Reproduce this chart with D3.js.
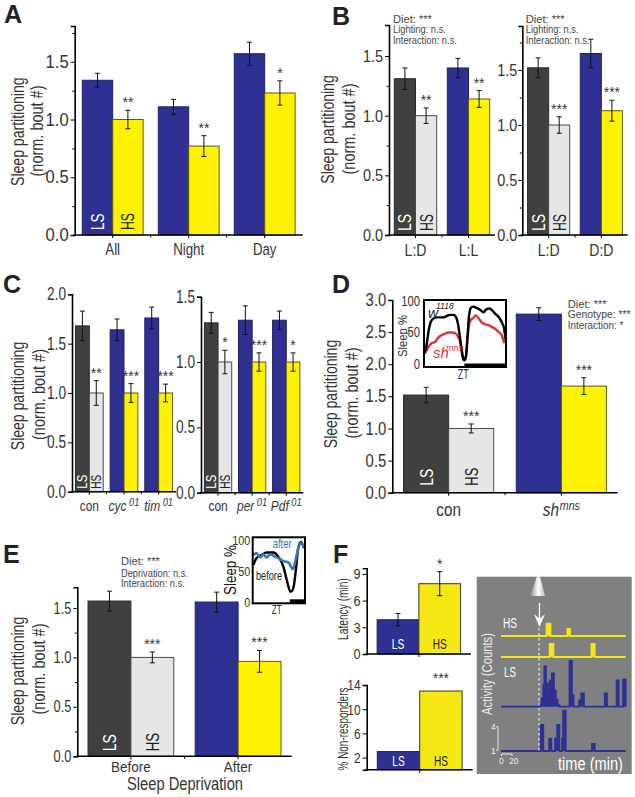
<!DOCTYPE html>
<html>
<head>
<meta charset="utf-8">
<script src="https://cdn.jsdelivr.net/npm/d3@7"></script>
<style>
html,body{margin:0;padding:0;background:#fff;}
svg{display:block;}
text{font-family:"Liberation Sans",Arial,sans-serif;}
</style>
</head>
<body>
<script>
// panel A
var aGroups = ["All","Night","Day"];
var aLS = [1.34,1.11,1.57];
var aHS = [1.0,0.77,1.23];
var aLSErr = [0.06,0.065,0.1];
var aHSErr = [0.08,0.09,0.105];
var aSig = ["**","**","*"];
// panel B
var bLeftGroups = ["L:D","L:L"];
var bLeftLS = [1.31,1.40];
var bLeftHS = [1.0,1.14];
var bLeftLSErr = [0.09,0.08];
var bLeftHSErr = [0.065,0.07];
var bLeftSig = ["**","**"];
var bRightGroups = ["L:D","D:D"];
var bRightLS = [1.52,1.65];
var bRightHS = [1.0,1.13];
var bRightLSErr = [0.09,0.13];
var bRightHSErr = [0.075,0.095];
var bRightSig = ["***","***"];
// panel C
var cLeftGroups = ["con","cyc|01","tim|01"];
var cLeftLS = [1.68,1.64,1.76];
var cLeftHS = [1.0,1.0,1.0];
var cLeftLSErr = [0.15,0.11,0.11];
var cLeftHSErr = [0.125,0.095,0.09];
var cLeftSig = ["**","***","***"];
var cRightGroups = ["con","per|01","Pdf|01"];
var cRightLS = [1.30,1.32,1.32];
var cRightHS = [1.0,1.0,1.0];
var cRightLSErr = [0.08,0.11,0.07];
var cRightHSErr = [0.09,0.07,0.07];
var cRightSig = ["*","***","*"];
// panel D
var dGroups = ["con","sh|mns"];
var dLS = [1.52,2.78];
var dHS = [1.0,1.66];
var dLSErr = [0.12,0.1];
var dHSErr = [0.07,0.13];
var dSig = ["***","***"];
// panel E
var eGroups = ["Before","After"];
var eLS = [1.57,1.56];
var eHS = [1.0,0.96];
var eLSErr = [0.1,0.1];
var eHSErr = [0.055,0.11];
var eSig = ["***","***"];
// panel F
var fLatencyLS = [3.85];
var fLatencyHS = [7.9];
var fLatencyLSErr = [0.7];
var fLatencyHSErr = [1.35];
var fLatencySig = ["*"];
var fNonRespLS = [3];
var fNonRespHS = [13];
var fNonRespSig = ["***"];

// insets: [ZT, sleep %]
var dInsetW1118 = [[0,17],[0.6,25],[1.3,51],[2,67],[2.7,72],[3.7,74],[4.7,74],[5.7,74],[6.6,76],[7.6,78],[8.6,78],[9.3,75],[10,62],[10.7,35],[11.3,12],[11.8,6],[12.3,12],[12.7,41],[13.1,72],[13.7,89],[14.4,91],[15.4,89],[16.4,86],[17.4,82],[18.1,86],[19,88],[19.8,86],[20.8,80],[21.8,75],[22.7,67],[23.4,57],[23.9,38]];
var dInsetShmns = [[0.3,17],[1.3,27],[2.2,33],[3.2,35],[4.2,42],[5.2,46],[6.1,48],[7.1,50],[8.1,50],[9.1,49],[10,43],[10.7,33],[11.3,14],[11.8,6],[12.3,14],[12.7,38],[13.1,59],[13.7,70],[14.4,73],[15.1,77],[15.9,73],[16.9,66],[17.9,63],[18.8,62],[19.8,59],[20.8,56],[21.8,51],[22.7,46],[23.5,33]];
var eInsetBefore = [[0.3,60],[1.8,71],[4.1,76],[6.4,80],[9.5,80],[11.8,73],[14.1,57],[15.6,36],[17.4,17],[18.6,22],[19.9,55],[20.9,87],[22.2,97],[23.5,87]];
var eInsetAfter = [[0.3,76],[1.8,79],[3.4,72],[4.9,77],[6.4,72],[8,77],[10.3,73],[11.8,71],[14.1,66],[16.4,64],[18.4,53],[19.5,65],[20.7,84],[22.2,95],[23.5,88]];

// activity traces: [minutes, counts], each value holds until the next point
var traceHS1 = [[0,1],[85,2.6],[92.5,1],[124,1.9],[129,1],[233,1]];
var traceHS2 = [[0,1],[91,2.7],[98,1],[169,2.7],[175,1],[233,1]];
var traceLS1 = [[0,1],[72,1.3],[76,2.1],[79,3.8],[81,6.2],[84,4],[87.5,2.3],[91,4.4],[95,5.3],[99,3.1],[102.5,1.9],[106,1.2],[109,1],[128,6.9],[132.5,2.5],[135.6,1],[146,1.8],[150,2.7],[155,1],[194,2.7],[198,1],[216,4.4],[220,1],[228,4.5],[233,1]];
var traceLS2 = [[0,1],[74,4.35],[79,1],[90,2.6],[94,1],[101,2.6],[105,4.35],[109,1],[114,2.6],[116,6.2],[121,1],[170,1.9],[175,1],[233,1]];

var palette = {
    blue:{LS:"#2e3192",HS:"#fff200",LSline:"#1f2260",HSline:"#5e5a10"},
    grey:{LS:"#404040",HS:"#e6e6e6",LSline:"#2a2a2a",HSline:"#4a4a4a"},
    flat:{LS:"#2e3192",HS:"#f5e816",LSline:"#1f2260",HSline:"#3a3820"}
};
var textColor = "#333";

var svg = d3.select("body").append("svg").attr("width",635).attr("height",797);

// squeeze a text sideways so its real box stays the narrow one
function place(node,x,y,rotate,k){
    var tr = "translate("+x+","+y+")";
    if(rotate) tr += " rotate(-90)";
    if(k!=1) tr += " scale("+k+",1)";
    node.setAttribute("transform",tr);
}

function addText(o){
    var t = svg.append("text")
        .attr("font-size",o.size)
        .attr("fill",o.fill||textColor)
        .attr("text-anchor",o.anchor||"start")
        .text(o.text);
    if(o.bold) t.attr("font-weight","bold");
    if(o.italic) t.attr("font-style","italic");
    var k = o.len ? o.len/t.node().getComputedTextLength() : 1;
    place(t.node(),o.x,o.y,o.rotate,k);
    return t;
}

function squeeze(sel,k){
    sel.each(function(){
        var x = +this.getAttribute("x")||0;
        this.setAttribute("x",x/k);
        this.setAttribute("transform","scale("+k+",1)");
    });
}

function barPanel(c){
    var x0 = d3.scaleBand().domain(c.groups).range(c.xRange).paddingInner(0.2).paddingOuter(0.1);
    var x1 = d3.scaleBand().domain(["LS","HS"]).range([0,x0.bandwidth()]);
    var y = d3.scaleLinear().domain([0,c.yMax]).range(c.yRange);
    var rows = c.groups.map(function(g,i){
        return {g:g,i:i,LS:c.ls[i],HS:c.hs[i],LSerr:c.lsErr?c.lsErr[i]:0,HSerr:c.hsErr?c.hsErr[i]:0,sig:c.sig[i],style:palette[c.styles[i]]};
    });
    var g = svg.append("g");

    var group = g.selectAll("g.grp").data(rows).join("g").attr("class","grp")
        .attr("transform",function(d){return "translate("+x0(d.g)+",0)";});

    ["LS","HS"].forEach(function(k){
        group.append("rect")
            .attr("x",x1(k))
            .attr("y",function(d){return y(d[k]);})
            .attr("width",x1.bandwidth())
            .attr("height",function(d){return y(0)-y(d[k]);})
            .attr("fill",function(d){return d.style[k];})
            .attr("stroke",function(d){return d.style[k+"line"];})
            .attr("stroke-width",1);

        var cx = x1(k)+x1.bandwidth()/2;
        var errs = group.filter(function(d){return d[k+"err"]>0;});
        errs.append("line")
            .attr("x1",cx).attr("x2",cx)
            .attr("y1",function(d){return y(d[k]+d[k+"err"]);})
            .attr("y2",function(d){return y(d[k]-d[k+"err"]);})
            .attr("stroke","#111");
        [1,-1].forEach(function(s){
            errs.append("line")
                .attr("x1",cx-2.5).attr("x2",cx+2.5)
                .attr("y1",function(d){return y(d[k]+s*d[k+"err"]);})
                .attr("y2",function(d){return y(d[k]+s*d[k+"err"]);})
                .attr("stroke","#111");
        });
    });

    // stars sit above the HS bar
    group.append("text")
        .attr("x",x1("HS")+x1.bandwidth()/2)
        .attr("y",function(d){return y(d.HS+d.HSerr)-(c.starGap||2);})
        .attr("text-anchor","middle")
        .attr("font-size",c.starSize||14)
        .attr("fill",textColor)
        .text(function(d){return d.sig;});

    // LS / HS inside the first group
    if(c.barLabel){
        var b = c.barLabel;
        ["LS","HS"].forEach(function(k){
            var cx = x0(c.groups[0])+x1(k)+x1.bandwidth()/2;
            var t = g.append("text")
                .attr("font-size",b.size)
                .attr("fill",k=="LS"?(b.lsFill||"#fff"):(b.hsFill||"#222"))
                .text(k);
            var kx = b.len[k]/t.node().getComputedTextLength();
            if(b.flat){
                t.attr("text-anchor","middle");
                place(t.node(),cx,c.yRange[0]-b.off,false,kx);
            }else{
                t.attr("dy","0.36em");
                place(t.node(),cx,c.yRange[0]-b.off,true,kx);
            }
        });
    }

    // axes
    var yAxis = g.append("g").attr("transform","translate("+c.xRange[0]+",0)")
        .call(d3.axisLeft(y).tickValues(c.yTicks).tickSize(4).tickPadding(c.tickPad||2).tickFormat(c.yFormat||d3.format(".1f")));
    yAxis.select(".domain").attr("stroke","#000").attr("stroke-width",c.axisW||1.6);
    yAxis.selectAll("text").attr("font-size",c.tickSize).attr("font-family",null).attr("fill",textColor);
    squeeze(yAxis.selectAll("text"),c.tickK||1);

    if(c.yMinor){
        g.append("g").attr("transform","translate("+c.xRange[0]+",0)")
            .call(d3.axisLeft(y).tickValues(c.yMinor).tickSize(2.5).tickFormat(""))
            .select(".domain").remove();
    }

    var xAxis = g.append("g").attr("transform","translate(0,"+c.yRange[0]+")")
        .call(d3.axisBottom(x0).tickSize(3));
    xAxis.select(".domain").attr("stroke","#000").attr("stroke-width",c.axisW||1.6).attr("d","M"+(c.xRange[0]-1)+",0H"+c.xRange[1]);
    if(c.showLabels===false){
        xAxis.selectAll("text").remove();
    }else{
        xAxis.selectAll("text").each(function(d){
            var t = d3.select(this);
            var parts = d.split("|");
            t.text(null).attr("y",c.labelY).attr("dy",0).attr("font-family",null).attr("fill",textColor);
            var first = t.append("tspan").attr("font-size",c.labelSize).text(parts[0]);
            if(parts[1]){
                first.attr("font-style","italic");
                t.append("tspan").attr("font-size",c.supSize).attr("font-style","italic").attr("dx",c.supGap||1).attr("dy",c.supRise).text(parts[1]);
            }
        });
        squeeze(xAxis.selectAll("text"),c.labelK||1);
    }

    // small ticks halfway between the groups
    g.selectAll("line.between").data(c.groups.slice(1)).join("line").attr("class","between")
        .attr("x1",function(d){return x0(d)-x0.step()*0.1;})
        .attr("x2",function(d){return x0(d)-x0.step()*0.1;})
        .attr("y1",c.yRange[0]).attr("y2",c.yRange[0]+2.5)
        .attr("stroke","#000");
}

function inset(c){
    var x = d3.scaleLinear().domain([0,24]).range([c.box[0],c.box[2]]);
    var y = d3.scaleLinear().domain([0,100]).range(c.yRange);
    var g = svg.append("g");
    var line = d3.line().x(function(d){return x(d[0]);}).y(function(d){return y(d[1]);}).curve(d3.curveMonotoneX);
    var barH = c.barH;
    g.append("rect").attr("x",c.box[0]).attr("y",c.box[3]-barH).attr("width",x(c.lightsOff)-c.box[0]).attr("height",barH).attr("fill","#fff");
    g.append("rect").attr("x",x(c.lightsOff)).attr("y",c.box[3]-barH).attr("width",c.box[2]-x(c.lightsOff)).attr("height",barH).attr("fill","#000");
    c.series.forEach(function(s){
        g.append("path").datum(s.data).attr("d",line).attr("fill","none").attr("stroke",s.color).attr("stroke-width",s.w);
    });
    g.append("rect").attr("x",c.box[0]).attr("y",c.box[1]).attr("width",c.box[2]-c.box[0]).attr("height",c.box[3]-c.box[1])
        .attr("fill","none").attr("stroke","#000").attr("stroke-width",2);
    var ax = g.append("g").attr("transform","translate("+c.box[0]+",0)")
        .call(d3.axisLeft(y).tickValues([0,50,100]).tickSize(0).tickPadding(c.pad));
    ax.select(".domain").remove();
    ax.selectAll("text").attr("font-size",c.tickSize).attr("font-family",null).attr("fill",textColor);
    squeeze(ax.selectAll("text"),c.tickK);
}

var minor = function(top){
    return d3.range(0.25,top,0.5);
};

barPanel({groups:aGroups,ls:aLS,hs:aHS,lsErr:aLSErr,hsErr:aHSErr,sig:aSig,styles:["blue","blue","blue"],
    xRange:[74.7,302.7],yRange:[235,26],yMax:1.81,yTicks:[0,0.5,1,1.5],yMinor:minor(1.8),tickSize:17.5,tickK:0.95,
    labelSize:17,labelK:0.78,labelY:20,starGap:3,barLabel:{size:18,off:5,len:{LS:16.5,HS:17}}});

barPanel({groups:bLeftGroups,ls:bLeftLS,hs:bLeftHS,lsErr:bLeftLSErr,hsErr:bLeftHSErr,sig:bLeftSig,styles:["grey","blue"],
    xRange:[389,495],yRange:[235,25],yMax:1.76,yTicks:[0,0.5,1,1.5],yMinor:minor(1.75),tickSize:17,tickK:0.85,
    labelSize:16.5,labelK:0.85,labelY:21,starGap:3,barLabel:{size:18,off:4,len:{LS:17,HS:17}}});

barPanel({groups:bRightGroups,ls:bRightLS,hs:bRightHS,lsErr:bRightLSErr,hsErr:bRightHSErr,sig:bRightSig,styles:["grey","blue"],
    xRange:[522.3,627.7],yRange:[235,26],yMax:1.9,yTicks:[0,0.5,1,1.5],yMinor:minor(1.9),tickSize:17,tickK:0.85,tickPad:1,
    labelSize:16.5,labelK:0.85,labelY:21,starGap:3,barLabel:{size:18,off:4,len:{LS:17,HS:17}}});

barPanel({groups:cLeftGroups,ls:cLeftLS,hs:cLeftHS,lsErr:cLeftLSErr,hsErr:cLeftHSErr,sig:cLeftSig,styles:["grey","blue","blue"],
    xRange:[72,176],yRange:[491.7,294.3],yMax:2,yTicks:[0,0.5,1,1.5,2],tickSize:17.5,tickK:0.78,
    labelSize:14,labelK:0.85,labelY:19,supSize:11,supRise:-5,supGap:3,starGap:3,barLabel:{size:14,off:3,len:{LS:14,HS:14}}});

barPanel({groups:cRightGroups,ls:cRightLS,hs:cRightHS,lsErr:cRightLSErr,hsErr:cRightHSErr,sig:cRightSig,styles:["grey","blue","blue"],
    xRange:[201,303.3],yRange:[492.7,296.7],yMax:1.5,yTicks:[0,0.5,1,1.5],tickSize:17.5,tickK:0.78,
    labelSize:14,labelK:0.85,labelY:18,supSize:11,supRise:-5,supGap:3,starGap:3,barLabel:{size:14,off:4,len:{LS:14,HS:14}}});

barPanel({groups:dGroups,ls:dLS,hs:dHS,lsErr:dLSErr,hsErr:dHSErr,sig:dSig,styles:["grey","blue"],
    xRange:[392.3,617.7],yRange:[492.7,300],yMax:3,yTicks:[0,0.5,1,1.5,2,2.5,3],tickSize:17.5,tickK:0.85,
    labelSize:18,labelK:0.85,labelY:23,supSize:12.5,supRise:-6,supGap:0,starGap:3,barLabel:{size:18,off:7,len:{LS:17,HS:18}}});

barPanel({groups:eGroups,ls:eLS,hs:eHS,lsErr:eLSErr,hsErr:eHSErr,sig:eSig,styles:["grey","blue"],
    xRange:[77.3,291.7],yRange:[756.3,587.3],yMax:1.709,yTicks:[0,0.5,1,1.5],yMinor:minor(1.7),tickSize:16,tickK:0.8,
    labelSize:15,labelK:0.9,labelY:15.5,starGap:3,barLabel:{size:18,off:5,len:{LS:17,HS:18.5}}});

barPanel({groups:["Latency"],ls:fLatencyLS,hs:fLatencyHS,lsErr:fLatencyLSErr,hsErr:fLatencyHSErr,sig:fLatencySig,styles:["flat"],
    xRange:[366.7,471],yRange:[654,568.3],yMax:9.63,yTicks:[0,3,6,9],yFormat:d3.format("d"),tickSize:15,tickK:0.85,
    showLabels:false,starGap:3,axisW:1.6,barLabel:{flat:true,size:14.5,off:5,len:{LS:12.5,HS:14}}});

barPanel({groups:["NonResp"],ls:fNonRespLS,hs:fNonRespHS,sig:fNonRespSig,styles:["flat"],
    xRange:[366.7,472.7],yRange:[769.7,685],yMax:14,yTicks:[2,6,10,14],yFormat:d3.format("d"),tickSize:15,tickK:0.8,
    showLabels:false,starGap:8,axisW:1.6,barLabel:{flat:true,size:14.5,off:4,len:{LS:12.5,HS:14}}});

// panel letters
[["A",4,23],["B",332,25],["C",3,293],["D",332,293],["E",3,563],["F",333,563]].forEach(function(d){
    addText({x:d[1],y:d[2],text:d[0],size:25,bold:true,fill:"#222"});
});

// y axis titles
[[24,131.7,43,131],[333.7,129.5,355,129],[24,396,45,394.5],[336.7,394,358,393],[24,671,45,669]].forEach(function(d){
    addText({x:d[0],y:d[1],text:"Sleep partitioning",size:17.5,len:108.5,rotate:true,anchor:"middle"});
    addText({x:d[2],y:d[3],text:"(norm. bout #)",size:17.5,len:91,rotate:true,anchor:"middle"});
});
addText({x:348,y:609,text:"Latency (min)",size:14,len:62,rotate:true,anchor:"middle"});
addText({x:348,y:729,text:"% Non-responders",size:14,len:83,rotate:true,anchor:"middle"});
addText({x:185,y:790,text:"Sleep Deprivation",size:18,len:116,anchor:"middle"});

// statistics notes
function notes(x,ys,lines){
    lines.forEach(function(l,i){
        addText({x:x,y:ys[i],text:l[0],size:11,len:l[1],fill:"#444"});
    });
}
notes(393,[22.7,33,44],[["Diet: ***",39],["Lighting: n.s.",53],["Interaction: n.s.",64]]);
notes(525.7,[22.7,33,44],[["Diet: ***",39],["Lighting: n.s.",53],["Interaction: n.s.",64]]);
notes(567.7,[308,318.3,329],[["Diet: ***",39],["Genotype: ***",63],["Interaction: *",55.6]]);
notes(121,[565,576.7,587.3],[["Diet: ***",39],["Deprivation: n.s.",67],["Interaction: n.s.",64]]);

// inset D
inset({box:[424,300,506,367],yRange:[364,301],lightsOff:11.8,barH:3.5,pad:4,tickSize:14,tickK:0.8,
    series:[{data:dInsetShmns,color:"#e0303f",w:2.4},{data:dInsetW1118,color:"#000",w:2.4}]});
addText({x:406.7,y:336,text:"Sleep %",size:13.5,len:42,rotate:true,anchor:"middle"});
addText({x:463.3,y:379,text:"ZT",size:14,len:11,anchor:"middle"});
addText({x:428,y:317.7,text:"w",size:14,italic:true,fill:"#222"});
addText({x:436,y:309,text:"1118",size:8.5,italic:true,fill:"#222"});
addText({x:433,y:357.7,text:"sh",size:15,italic:true,fill:"#e0303f"});
addText({x:446,y:350.7,text:"mns",size:9,italic:true,fill:"#e0303f"});

// inset E
inset({box:[252.7,537.3,305,603.3],yRange:[602.3,540],lightsOff:17,barH:4,pad:2.5,tickSize:13.5,tickK:0.8,
    series:[{data:eInsetBefore,color:"#000",w:2.4},{data:eInsetAfter,color:"#3f74b4",w:2.6}]});
addText({x:236,y:570,text:"Sleep %",size:16,len:50,rotate:true,anchor:"middle",fill:"#111"});
addText({x:276.7,y:614,text:"ZT",size:12,len:10,anchor:"middle"});
addText({x:272.7,y:548,text:"after",size:12.5,len:19,fill:"#3f74b4"});
addText({x:256,y:580,text:"before",size:12.5,len:26,fill:"#222"});

// panel F activity traces
svg.append("rect").attr("x",476.7).attr("y",576.7).attr("width",155).attr("height",197.3).attr("fill","#808080");
var grad = svg.append("defs").append("linearGradient").attr("id","cone");
grad.append("stop").attr("offset","0%").attr("stop-color","#8a8a8a");
grad.append("stop").attr("offset","55%").attr("stop-color","#fff");
grad.append("stop").attr("offset","100%").attr("stop-color","#bdbdbd");
svg.append("path").attr("d","M537.5,575L539.5,575L545,596L530,596Z").attr("fill","url(#cone)");

var timeX = d3.scaleLinear().domain([0,233]).range([501,625.7]);
[{data:traceHS1,base:636,color:"#f5e616"},{data:traceHS2,base:657,color:"#f5e616"},
 {data:traceLS1,base:706.7,color:"#2e3192"},{data:traceLS2,base:751,color:"#2e3192"}].forEach(function(r){
    var y = d3.scaleLinear().domain([1,4]).range([r.base,r.base-23.3]);
    var area = d3.area().x(function(d){return timeX(d[0]);}).y0(y(1)).y1(function(d){return y(d[1]);}).curve(d3.curveStepAfter);
    var line = d3.line().x(function(d){return timeX(d[0]);}).y(function(d){return y(d[1]);}).curve(d3.curveStepAfter);
    svg.append("path").datum(r.data).attr("d",area).attr("fill",r.color);
    svg.append("path").datum(r.data).attr("d",line).attr("fill","none").attr("stroke",r.color).attr("stroke-width",1.8);
});

svg.append("line").attr("x1",539).attr("x2",539).attr("y1",628).attr("y2",753)
    .attr("stroke","#fff").attr("stroke-width",1).attr("stroke-dasharray","2.5,2.5");
svg.append("line").attr("x1",539.5).attr("x2",539.5).attr("y1",603).attr("y2",625).attr("stroke","#fff").attr("stroke-width",1.3);
svg.append("path").attr("d","M534,614L539.5,627L545,614L539.5,619Z").attr("fill","#fff");

addText({x:503,y:628,text:"HS",size:14.5,len:14,fill:"#fff"});
addText({x:504,y:677,text:"LS",size:14.5,len:12,fill:"#fff"});
addText({x:492.3,y:674,text:"Activity (Counts)",size:14,len:82,rotate:true,anchor:"middle",fill:"#eee"});
addText({x:558,y:770,text:"time (min)",size:18.5,len:65,fill:"#fff"});
addText({x:491,y:730,text:"4",size:8.5,fill:"#eee"});
addText({x:491,y:754,text:"1",size:8.5,fill:"#eee"});
addText({x:499,y:764,text:"0",size:8.5,fill:"#eee"});
addText({x:509,y:764,text:"20",size:8.5,fill:"#eee"});
svg.append("path").attr("d","M496,726.7H498V750H496").attr("fill","none").attr("stroke","#fff").attr("stroke-width",0.8);
svg.append("path").attr("d","M501.5,756V754H512V756").attr("fill","none").attr("stroke","#fff").attr("stroke-width",0.8);
</script>
</body>
</html>
